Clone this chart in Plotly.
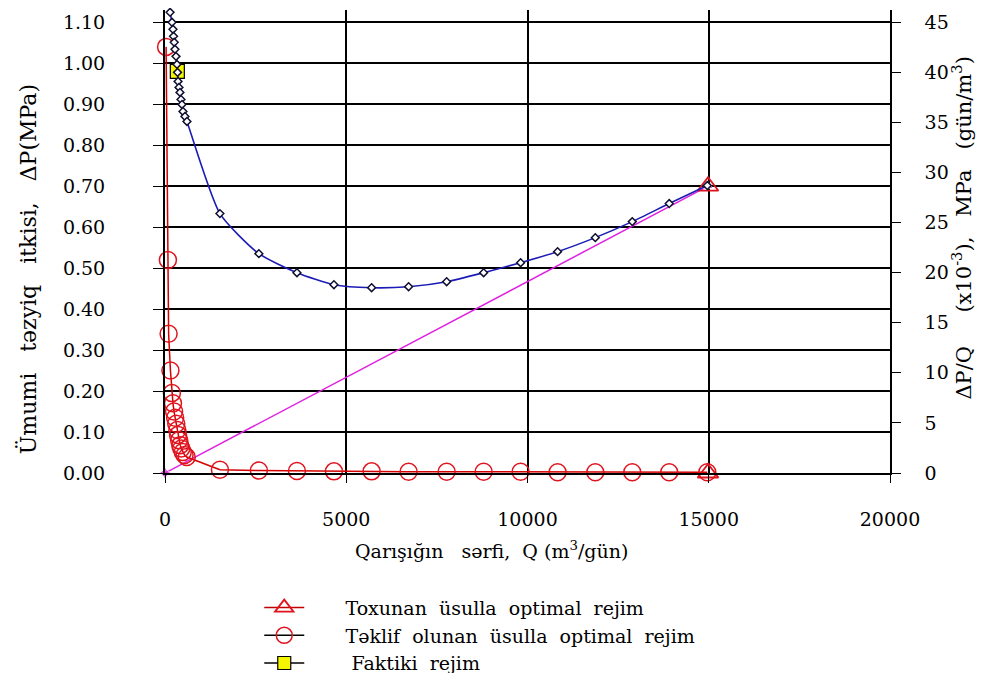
import plotly.graph_objects as go

# Blue curve: ΔP/Q (x10^-3) MPa·gün/m3 vs Q (right axis)
q_blue = [140, 193, 220, 235, 255, 275, 303, 330, 345, 360, 386, 413, 441, 468, 496, 551, 606,
          1515, 2590, 3640, 4660, 5700, 6720, 7770, 8790, 9810, 10830, 11870, 12890, 13910, 14960]
dpq_blue = [46.0, 45.0, 44.3, 43.6, 43.0, 42.3, 41.6, 40.8, 40.0, 39.1, 38.5, 38.0, 37.3, 36.8, 36.1, 35.6, 35.1,
            25.9, 21.9, 20.0, 18.8, 18.5, 18.6, 19.1, 20.0, 21.0, 22.1, 23.5, 25.1, 26.9, 28.7]

# Red circles: proposed method (left axis)
q_red = [30, 80, 100, 150, 190, 220, 250, 280, 310, 340, 360, 390, 420, 450, 490, 540, 600,
         1515, 2590, 3640, 4660, 5700, 6720, 7770, 8790, 9810, 10830, 11870, 12890, 13910, 14960]
dp_red = [1.04, 0.52, 0.34, 0.25, 0.195, 0.17, 0.15, 0.135, 0.12, 0.105, 0.093, 0.08, 0.068, 0.06, 0.051, 0.044, 0.039,
          0.008, 0.006, 0.005, 0.004, 0.004, 0.003, 0.003, 0.003, 0.003, 0.002, 0.002, 0.002, 0.002, 0.002]

# Tangent method optimum (red triangles) and tangent line (magenta)
q_tri = [14980, 14980]
dp_tri = [0.70, 0.0]
q_tangent = [0, 14980]
dp_tangent = [0.0, 0.70]

# Actual regime
q_fact = [340]
dp_fact = [0.98]

x_ticks = [0, 5000, 10000, 15000, 20000]
y_left_ticks = [round(i * 0.1, 2) for i in range(12)]
y_right_ticks = list(range(0, 50, 5))

FONT = "DejaVu Serif, Liberation Serif, serif"
BLUE = "#1c1cb4"
RED = "#e0141e"
MAG = "#e020e0"
NB = "\u00a0"

fig = go.Figure()

fig.add_trace(go.Scatter(x=q_tangent, y=dp_tangent, mode="lines+markers",
                         line=dict(color=MAG, width=1.5),
                         marker=dict(symbol=["star-diamond", "triangle-up"], size=[10, 9], color=MAG),
                         cliponaxis=False, showlegend=False))

fig.add_trace(go.Scatter(x=q_red, y=dp_red, mode="lines+markers",
                         line=dict(color="#d40000", width=1.5),
                         marker=dict(symbol="circle-open", size=17, color=RED, line=dict(width=1.5)),
                         cliponaxis=False, showlegend=False))

fig.add_trace(go.Scatter(x=q_blue, y=dpq_blue, mode="lines+markers", yaxis="y2",
                         line=dict(color=BLUE, width=1.6, shape="spline", smoothing=0.6),
                         marker=dict(symbol="diamond", size=6, color="white", line=dict(color="#101030", width=1.5)),
                         cliponaxis=False, showlegend=False))

fig.add_trace(go.Scatter(x=q_tri, y=dp_tri, mode="markers",
                         marker=dict(symbol="triangle-up-open", size=18, color=RED, line=dict(width=1.8)),
                         cliponaxis=False, showlegend=False))

fig.add_trace(go.Scatter(x=q_fact, y=dp_fact, mode="markers",
                         marker=dict(symbol="square", size=14, color="#f5f500", line=dict(color="black", width=1.2)),
                         cliponaxis=False, showlegend=False))

# legend entries
fig.add_trace(go.Scatter(x=[None], y=[None], mode="lines+markers",
                         name=NB * 6 + f"Toxunan{NB}{NB}üsulla{NB}{NB}optimal{NB}{NB}rejim",
                         line=dict(color="#c00000", width=1.5),
                         marker=dict(symbol="triangle-up-open", size=16, color=RED, line=dict(width=1.8))))
fig.add_trace(go.Scatter(x=[None], y=[None], mode="lines+markers",
                         name=NB * 6 + f"Təklif{NB}{NB}olunan{NB}{NB}üsulla{NB}{NB}optimal{NB}{NB}rejim",
                         line=dict(color="black", width=1.5),
                         marker=dict(symbol="circle-open", size=17, color=RED, line=dict(width=1.5))))
fig.add_trace(go.Scatter(x=[None], y=[None], mode="lines+markers",
                         name=NB * 7 + f"Faktiki{NB}{NB}rejim",
                         line=dict(color="black", width=1.5),
                         marker=dict(symbol="square", size=13, color="#f5f500", line=dict(color="black", width=1.2))))

# page has an 8px body margin: figure is drawn at (8, 8)
fig.update_layout(
    width=970, height=665,
    paper_bgcolor="white", plot_bgcolor="white",
    margin=dict(l=157, r=88, t=2, b=200, autoexpand=False),
    font=dict(family=FONT, size=19, color="black"),
    xaxis=dict(range=[0, 20000], tickvals=x_ticks, ticktext=[str(v) for v in x_ticks],
               showgrid=True, gridcolor="black", gridwidth=1.5,
               showline=True, linecolor="black", linewidth=1.5,
               ticks="outside", ticklen=8, tickcolor="black", ticklabelstandoff=20,
               zeroline=False, automargin=False, tickfont=dict(family=FONT, size=19)),
    yaxis=dict(range=[0, 1.13], tickvals=y_left_ticks, ticktext=[f"{v:.2f}" for v in y_left_ticks],
               showgrid=True, gridcolor="black", gridwidth=1.5,
               showline=True, linecolor="black", linewidth=2,
               ticks="outside", ticklen=10, tickcolor="black", ticklabelstandoff=44,
               zeroline=False, automargin=False, tickfont=dict(family=FONT, size=19)),
    yaxis2=dict(range=[0, 1.13 / 1.1 * 45], tickvals=y_right_ticks, ticktext=[str(v) for v in y_right_ticks],
                overlaying="y", side="right", showgrid=False,
                showline=True, linecolor="black", linewidth=1.5,
                ticks="outside", ticklen=9, tickcolor="black", ticklabelstandoff=20,
                zeroline=False, automargin=False, tickfont=dict(family=FONT, size=19)),
    legend=dict(x=0.13, y=-0.25, xanchor="left", yanchor="top",
                font=dict(family=FONT, size=19), bgcolor="rgba(0,0,0,0)",
                itemwidth=40, tracegroupgap=3),
    annotations=[
        dict(text=f"Ümumi{NB*3}təzyiq{NB*3}itkisi,{NB*3}ΔP(MPa)",
             xref="paper", yref="paper", x=-0.189, y=0.44, textangle=-90,
             showarrow=False, font=dict(family=FONT, size=22), xanchor="center", yanchor="middle"),
        dict(text=f"ΔP/Q{NB*5}(x10<sup>-3</sup>),{NB*3}MPa{NB*3}(gün/m<sup>3</sup>)",
             xref="paper", yref="paper", x=1.1, y=0.529, textangle=-90,
             showarrow=False, font=dict(family=FONT, size=21), xanchor="center", yanchor="middle"),
        dict(text=f"Qarışığın{NB*3}sərfi,{NB*2}Q{NB}(m<sup>3</sup>/gün)",
             xref="paper", yref="paper", x=0.451, y=-0.166,
             showarrow=False, font=dict(family=FONT, size=19), xanchor="center", yanchor="middle"),
    ],
)

fig.write_html("out.html")
